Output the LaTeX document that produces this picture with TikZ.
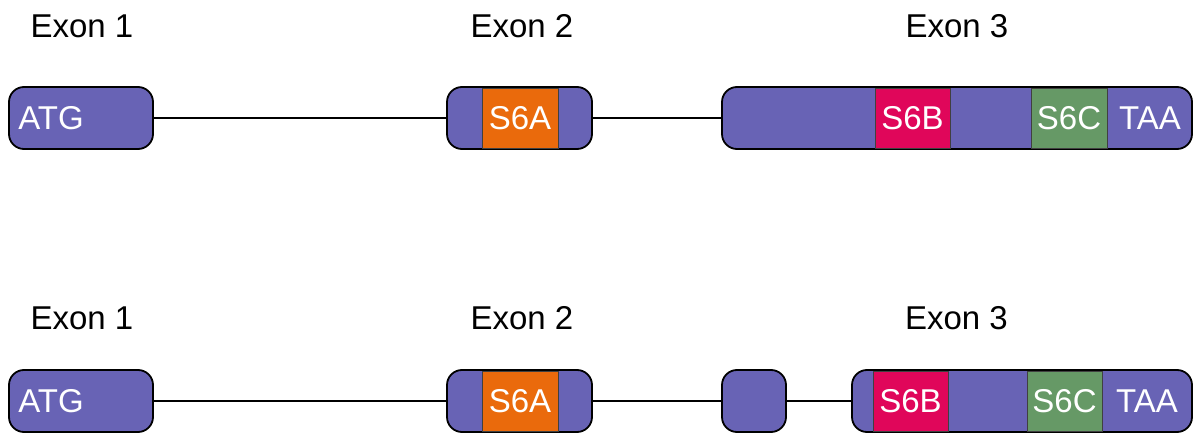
\documentclass[tikz,border=0pt]{standalone}
\usepackage{fontspec}
\setmainfont{Liberation Sans}
\definecolor{exonpurple}{RGB}{104,99,181}
\definecolor{s6aorange}{RGB}{234,106,12}
\definecolor{s6bred}{RGB}{224,6,90}
\definecolor{s6cgreen}{RGB}{102,153,102}
\begin{document}
\begin{tikzpicture}[x=1pt,y=-1pt,
  exon/.style={draw=black, line width=1.8pt, fill=exonpurple,
    rounded corners=15pt, minimum height=62pt, inner sep=0pt},
  seg/.style={draw=black!75, line width=0.8pt, minimum height=60pt, inner sep=0pt},
  title/.style={font=\fontsize{33}{38}\selectfont, text=black, anchor=base, inner sep=0pt},
  inlab/.style={font=\fontsize{33}{38}\selectfont, text=white, inner sep=0pt},
  intron/.style={line width=1.5pt}]
\useasboundingbox (0,0) rectangle (1195,433);

% ---- upper transcript ----
\node[title] (t1) at (82,38) {Exon 1};
\node[title] (t2) at (522,38) {Exon 2};
\node[title] (t3) at (957,38) {Exon 3};

\node[exon, minimum width=144pt] (a1) at (81,118) {};
\node[exon, minimum width=145pt] (a2) at (519.5,118) {};
\node[exon, minimum width=470pt] (a3) at (957,118) {};

\draw[intron] (a1.east) -- (a2.west);
\draw[intron] (a2.east) -- (a3.west);

\node[seg, fill=s6aorange, minimum width=76pt] (a2s) at (520,118) {};
\node[seg, fill=s6bred, minimum width=75pt] (a3b) at (912.5,118) {};
\node[seg, fill=s6cgreen, minimum width=76pt] (a3c) at (1069,118) {};

\node[inlab, anchor=west] (atg1) at ([xshift=10pt]a1.west) {ATG};
\node[inlab] at (a2s) {S6A};
\node[inlab] at (a3b) {S6B};
\node[inlab] at (a3c) {S6C};
\node[inlab] (taa1) at (1150,118) {TAA};

% ---- lower transcript ----
\node[title] (u1) at (82,329) {Exon 1};
\node[title] (u2) at (522,329) {Exon 2};
\node[title] (u3) at (956.5,329) {Exon 3};

\node[exon, minimum width=144pt] (b1) at (81,401) {};
\node[exon, minimum width=145pt] (b2) at (519.5,401) {};
\node[exon, minimum width=64pt] (bx) at (754,401) {};
\node[exon, minimum width=340pt] (b3) at (1022,401) {};

\draw[intron] (b1.east) -- (b2.west);
\draw[intron] (b2.east) -- (bx.west);
\draw[intron] (bx.east) -- (b3.west);

\node[seg, fill=s6aorange, minimum width=76pt] (b2s) at (520,401) {};
\node[seg, fill=s6bred, minimum width=75pt] (b3b) at (910.5,401) {};
\node[seg, fill=s6cgreen, minimum width=75pt] (b3c) at (1064.5,401) {};

\node[inlab, anchor=west] (atg2) at ([xshift=10pt]b1.west) {ATG};
\node[inlab] at (b2s) {S6A};
\node[inlab] at (b3b) {S6B};
\node[inlab] at (b3c) {S6C};
\node[inlab] (taa2) at (1147,401) {TAA};
\end{tikzpicture}
\end{document}
